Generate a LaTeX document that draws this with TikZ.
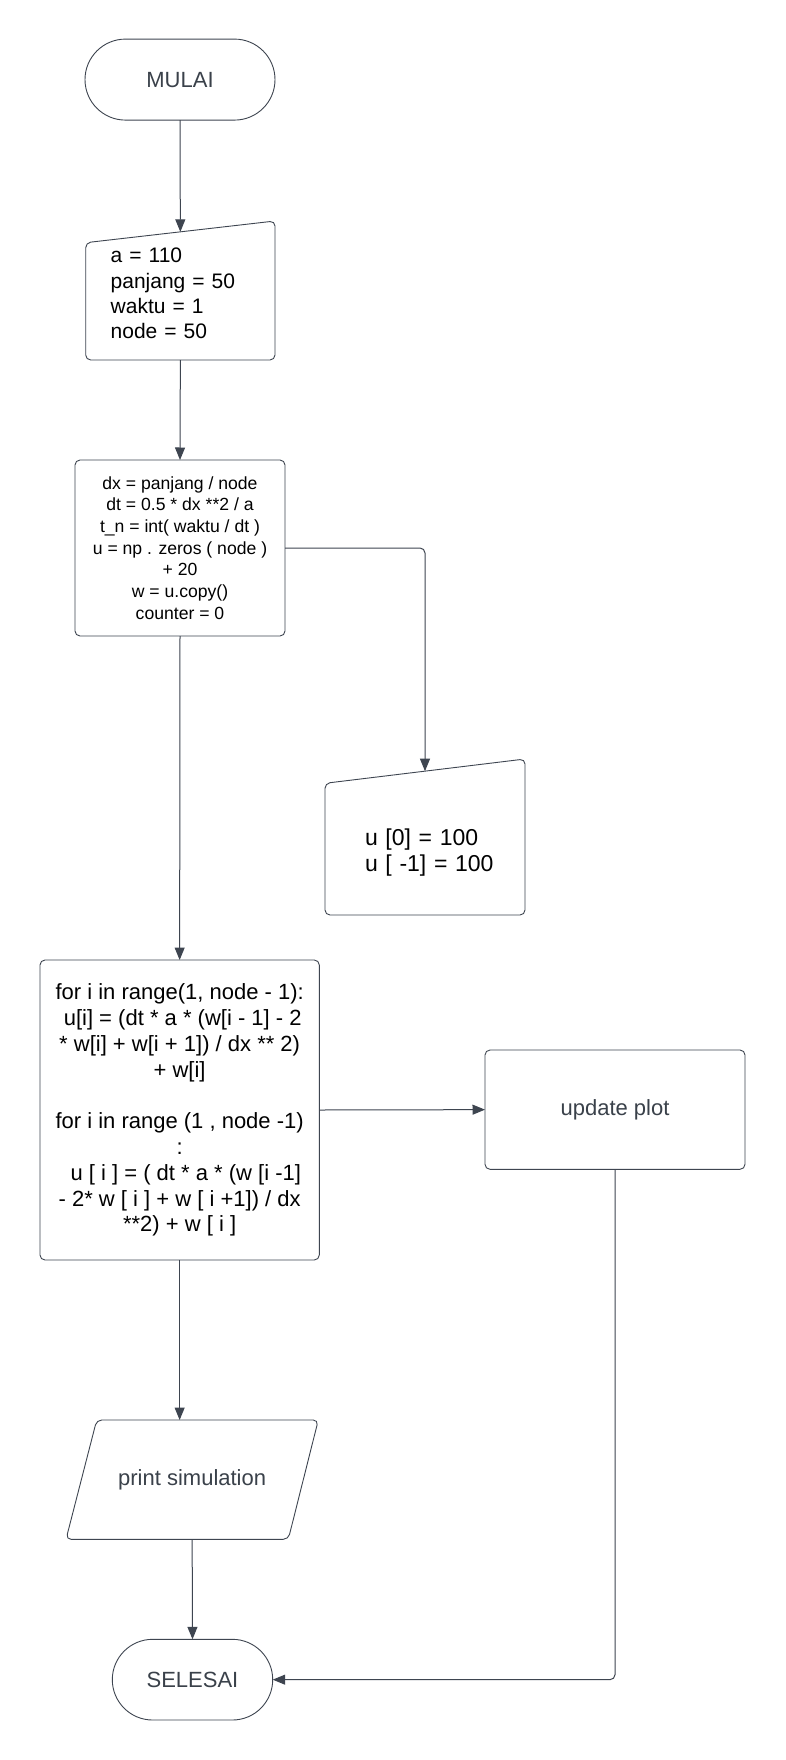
\documentclass[tikz,border=0pt]{standalone}
\usepackage{fontspec}
\setmainfont{Liberation Sans}
\usetikzlibrary{arrows.meta,calc}
\definecolor{edge}{HTML}{3E4550}
\definecolor{labelgray}{HTML}{3A414A}

\begin{document}
\begin{tikzpicture}[x=1pt,y=-1pt,
  every node/.style={inner sep=0pt, outer sep=0pt},
  flow/.style={draw=edge, line width=1pt, -{Triangle[length=12.5pt,width=10pt]}},
  outline/.style={draw=edge, line width=0.9pt, rounded corners=5pt},
  terminal/.style={draw=edge, line width=0.9pt, text=labelgray,
    font=\fontsize{22}{26}\selectfont},
  procbox/.style={draw=edge, line width=0.9pt, rounded corners=5pt, align=center},
  inputarea/.style={align=left},
]
% page
\fill[white] (0,0) rectangle (785,1760);
\useasboundingbox (0,0) rectangle (785,1760);

% start
\node[terminal, minimum width=190pt, minimum height=81pt, rounded corners=40.5pt]
  (mulai) at (180,79.6) {MULAI};

% first manual input (slanted top)
\node[inputarea, minimum width=189.3pt, minimum height=145pt, text width=139.3pt,
  font=\fontsize{21}{25.4}\selectfont] (in1) at (180.35,293.5)
  {a = 110\\panjang = 50\\waktu = 1\\node = 50};
\draw[outline] ($(in1.south west)+(0,-6)$) -- ($(in1.south east)+(0,-6)$)
  -- (in1.north east) -- ($(in1.north west)+(0,21.7)$) -- cycle;
\coordinate (in1top) at ($(in1.north)+(0,10.85)$);
\coordinate (in1bottom) at ($(in1.south)+(0,-6)$);

% setup process
\node[procbox, minimum width=210pt, minimum height=176pt,
  font=\fontsize{17.6}{21.7}\selectfont] (setup) at (180,548)
  {dx = panjang / node\\dt = 0.5 * dx **2 / a\\t\_n = int( waktu / dt )\\u = np . zeros ( node )\\+ 20\\w = u.copy()\\counter = 0};

% boundary values input (slanted top)
\node[inputarea, minimum width=200pt, minimum height=131.7pt, text width=132pt,
  font=\fontsize{23}{26.6}\selectfont] (bound) at (431,852.5)
  {u [0] = 100\\u [ -1] = 100};
\draw[outline] ($(bound.south west)+(-6,-3.35)$) -- ($(bound.south east)+(-6,-3.35)$)
  -- ($(bound.north east)+(-6,-27.65)$) -- ($(bound.north west)+(-6,-3.35)$) -- cycle;
\coordinate (boundtop) at ($(bound.north)+(-6,-15.5)$);

% main loop
\node[procbox, minimum width=279.3pt, minimum height=300pt,
  font=\fontsize{22}{25.8}\selectfont] (loop) at (179.65,1110)
  {for i in range(1, node - 1):\\\ u[i] = (dt * a * (w[i - 1] - 2\\{}* w[i] + w[i + 1]) / dx ** 2)\\+ w[i]\\[25.8pt]for i in range (1 , node -1)\\:\\\ \ u [ i ] = ( dt * a * (w [i -1]\\- 2* w [ i ] + w [ i +1]) / dx\\{}**2) + w [ i ]};

% plot update
\node[procbox, minimum width=260pt, minimum height=119.3pt, text=labelgray,
  font=\fontsize{22}{26}\selectfont] (plot) at (615,1109.65) {update plot};

% output (parallelogram)
\node[minimum width=252.3pt, minimum height=119.3pt, text=labelgray,
  font=\fontsize{22}{26}\selectfont] (print) at (192.15,1479.65) {print simulation};
\draw[outline] ($(print.north west)+(30.7,0)$) -- (print.north east)
  -- ($(print.south east)+(-30,0)$) -- (print.south west) -- cycle;

% end
\node[terminal, minimum width=160.4pt, minimum height=80.7pt, rounded corners=40.35pt]
  (selesai) at (192.5,1679.65) {SELESAI};

% connectors
\draw[flow] (mulai.south) -- (in1top);
\draw[flow] (in1bottom) -- (setup.north);
\draw[flow, rounded corners=5pt] (setup.east) -| (boundtop);
\draw[flow] (setup.south) -- (loop.north);
\draw[flow] (loop.east) -- (plot.west);
\draw[flow] (loop.south) -- (loop.south |- print.north);
\draw[flow] (print.south) -- (selesai.north);
\draw[flow, rounded corners=5pt] (plot.south) |- (selesai.east);
\end{tikzpicture}
\end{document}
